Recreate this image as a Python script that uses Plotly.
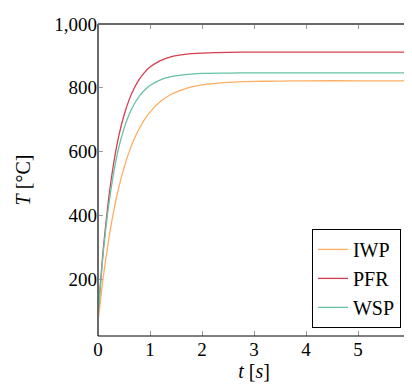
import plotly.graph_objects as go

t = [0, 0.1, 0.2, 0.3, 0.4, 0.5, 0.6, 0.7, 0.8, 0.9, 1.0, 1.2, 1.4, 1.6, 1.8, 2.0, 2.5, 3.0, 3.5, 4.0, 5.0, 6.0]
iwp = [66, 206, 319, 412, 488, 549, 600, 641, 674, 702, 724, 757, 779, 793, 803, 809, 817, 820, 821, 822, 822, 822]
pfr = [87, 292, 446, 562, 649, 714, 763, 800, 828, 849, 865, 885, 897, 903, 907, 909, 911, 912, 912, 912, 912, 912]
wsp = [87, 281, 425, 532, 613, 672, 717, 750, 775, 793, 807, 825, 835, 840, 843, 845, 846, 847, 847, 847, 847, 847]

series_names = ["IWP", "PFR", "WSP"]
series_vals = [iwp, pfr, wsp]
colors = ["#fdae61", "#d53e4f", "#66c2a5"]

y_tickvals = [200, 400, 600, 800, 1000]
y_ticktext = ["200", "400", "600", "800", "1,000"]
x_tickvals = [0, 1, 2, 3, 4, 5, 6]

font_family = "Liberation Serif"

fig = go.Figure()
for name, vals, c in zip(series_names, series_vals, colors):
    fig.add_trace(go.Scatter(x=t, y=vals, mode="lines", name=name,
                             line=dict(color=c, width=1.3, shape="spline", smoothing=0.6)))

fig.update_layout(
    width=412, height=388,
    margin=dict(l=90, r=10, t=16, b=60),
    paper_bgcolor="white", plot_bgcolor="white",
    font=dict(family=font_family, size=19, color="black"),
    showlegend=True,
    legend=dict(x=0.971, y=0.026, xanchor="right", yanchor="bottom",
                bgcolor="white", bordercolor="black", borderwidth=1,
                font=dict(family=font_family, size=20),
                itemwidth=30, tracegroupgap=0),
    xaxis=dict(range=[0, 6], tickvals=x_tickvals, showgrid=False, zeroline=False,
               showline=False, ticks="inside", ticklen=5, tickcolor="#999",
               mirror="ticks", tickfont=dict(size=19), automargin=False,
               title=dict(text="<i>t</i> [<i>s</i>]", standoff=4, font=dict(size=20))),
    yaxis=dict(range=[22, 1000], tickvals=y_tickvals, ticktext=y_ticktext, showgrid=False,
               zeroline=False, showline=False, ticks="inside", ticklen=5, tickcolor="#999",
               mirror="ticks", tickfont=dict(size=19), automargin=False,
               title=dict(text="<i>T</i> [°C]", standoff=18, font=dict(size=20))),
)

# axis box
fig.add_shape(type="line", xref="paper", yref="paper", x0=0, x1=0, y0=0, y1=1,
              line=dict(color="#6a6a6a", width=2))
fig.add_shape(type="line", xref="paper", yref="paper", x0=0, x1=1, y0=1, y1=1,
              line=dict(color="#6a6a6a", width=2))
fig.add_shape(type="line", xref="paper", yref="paper", x0=0, x1=1, y0=0, y1=0,
              line=dict(color="black", width=1))
fig.add_shape(type="line", xref="paper", yref="paper", x0=1, x1=1, y0=0, y1=1,
              line=dict(color="black", width=1))

fig.write_html("out.html")
